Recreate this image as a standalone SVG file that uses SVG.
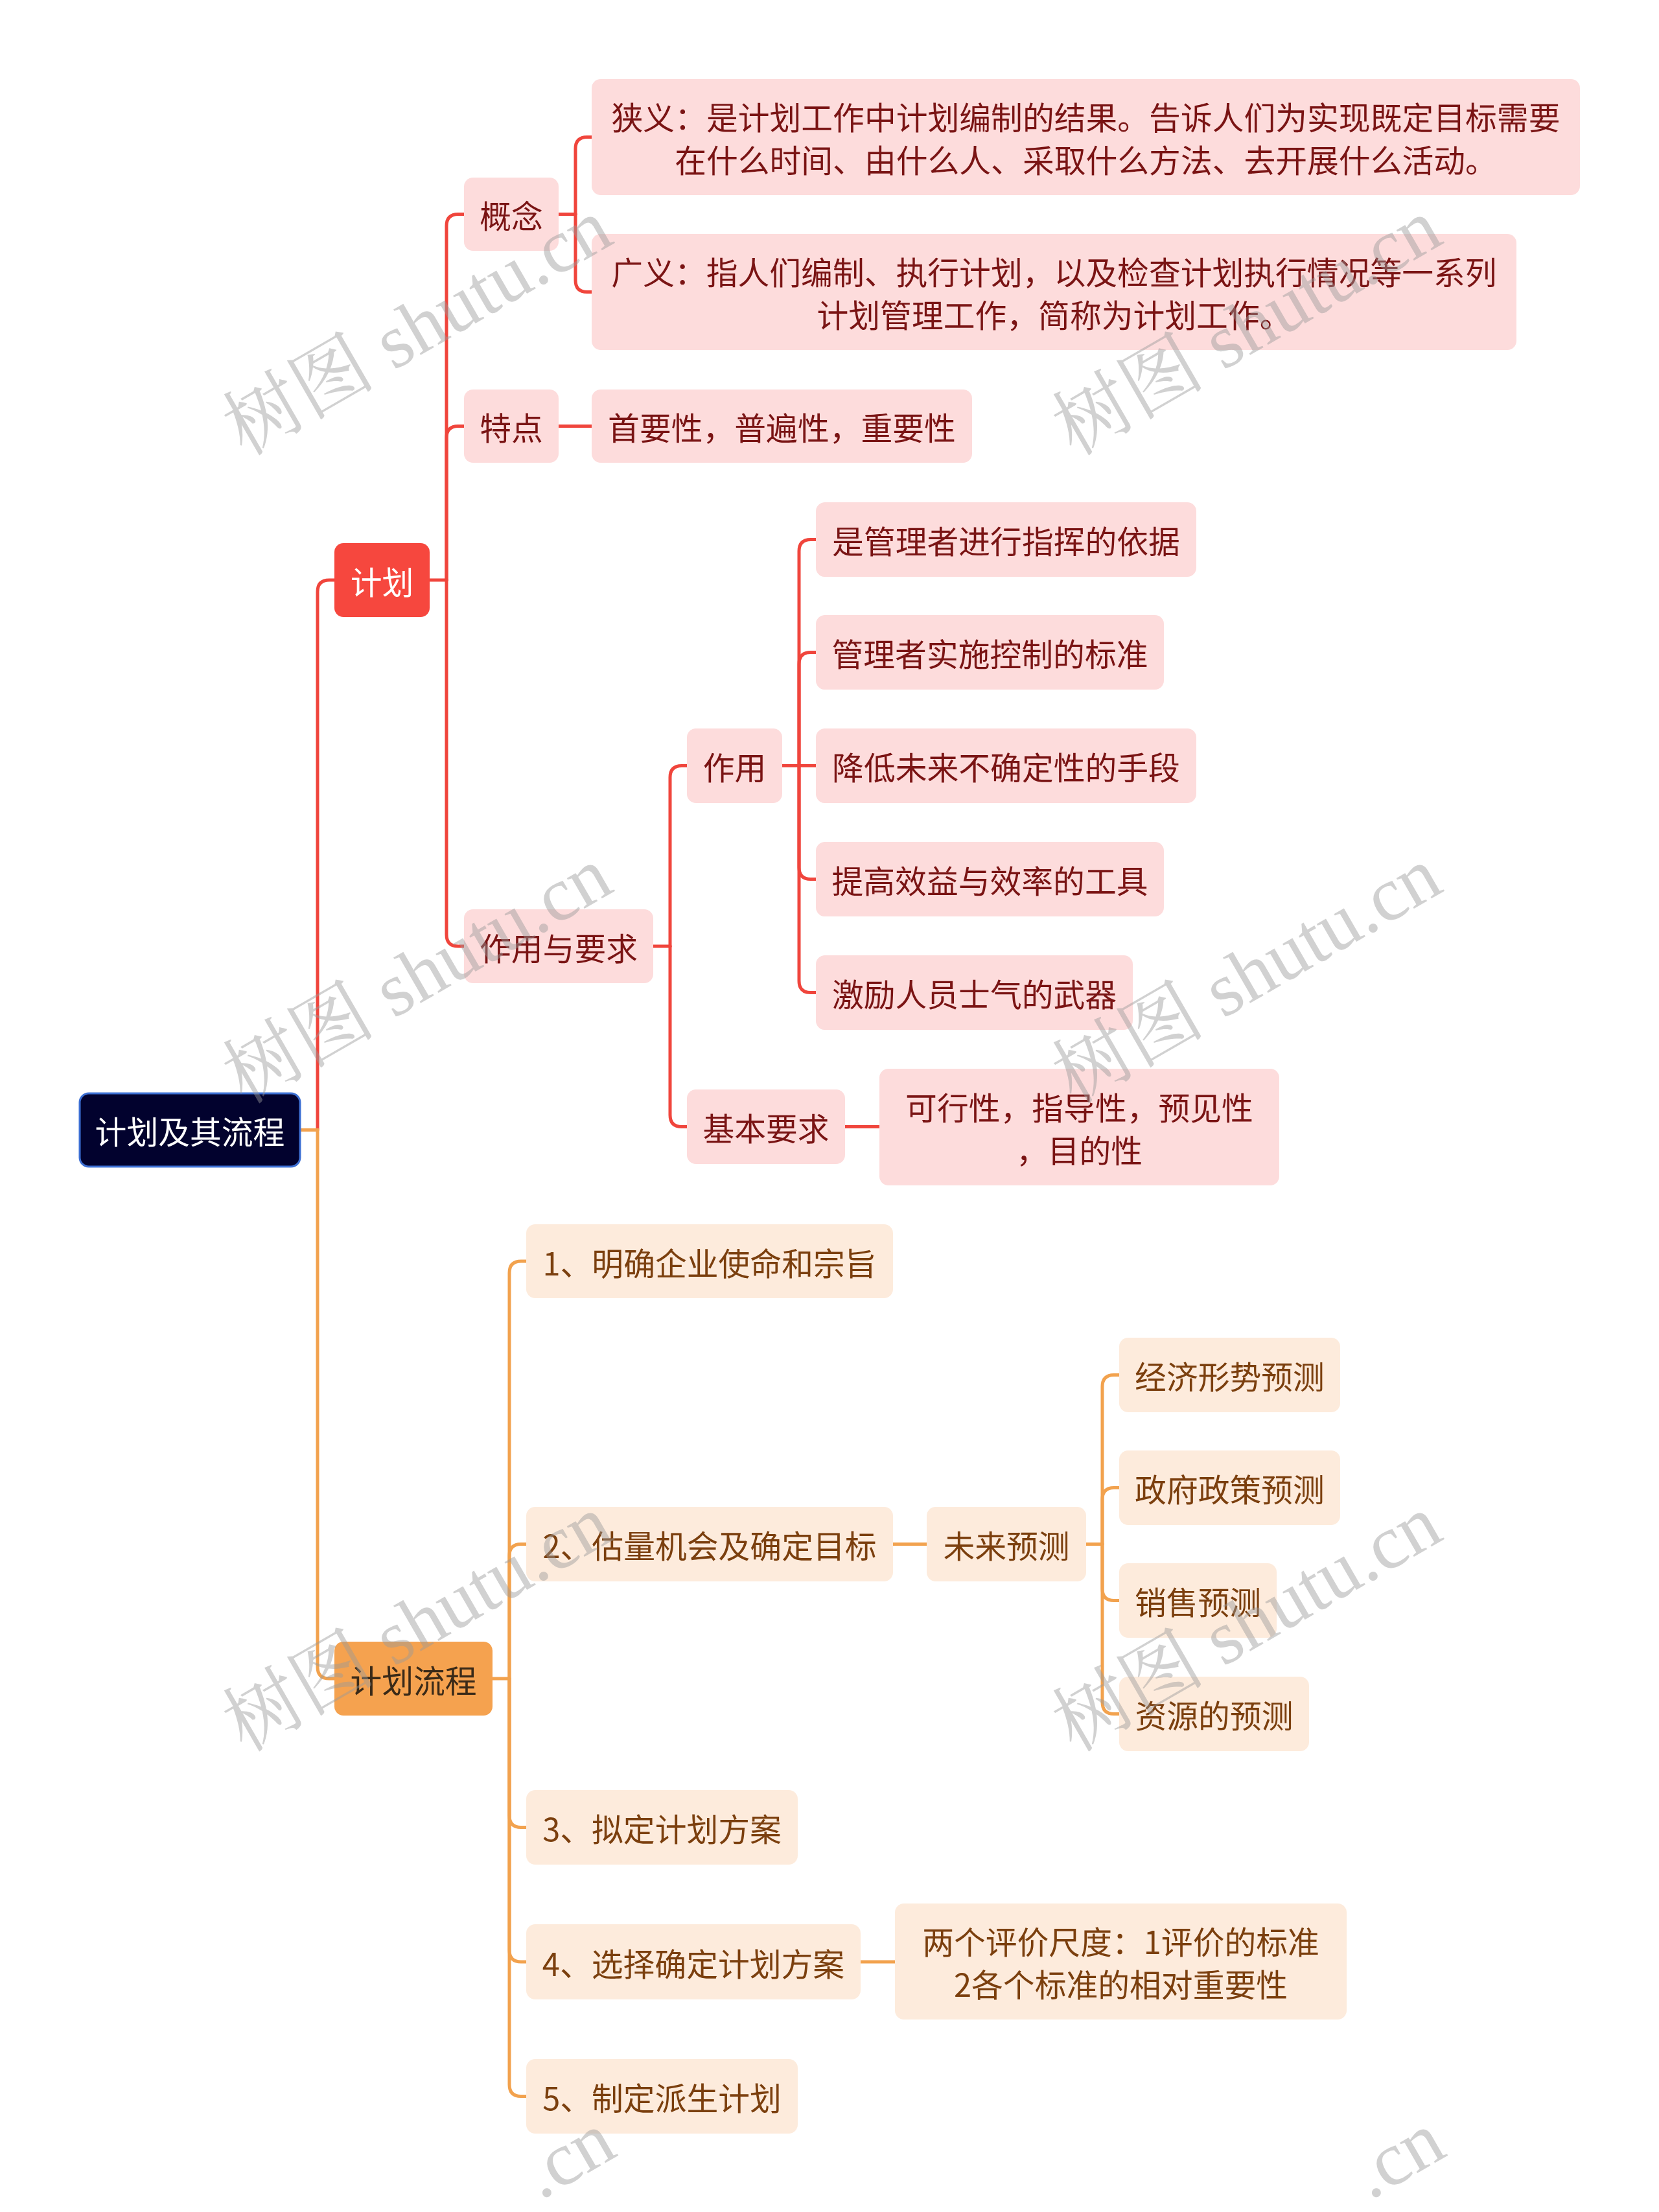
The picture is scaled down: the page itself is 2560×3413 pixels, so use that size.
<svg xmlns="http://www.w3.org/2000/svg" width="2560" height="3413" viewBox="0 0 2560 3413">
<style>
text{font-family:"Noto Sans CJK SC","Noto Sans",sans-serif;font-size:48.8px;text-anchor:middle;dominant-baseline:central}
.root rect{fill:#02022e;stroke:#3d70d4;stroke-width:3}
.root text{fill:#ffffff}
.red rect{fill:#f6473e}
.red text{fill:#ffffff}
.org rect{fill:#f5a24f}
.org text{fill:#3a2a18}
.pk rect{fill:#fddcdc}
.pk text{fill:#7a1414}
.pc rect{fill:#fdebdc}
.pc text{fill:#7b3f0e}
.cr path{fill:none;stroke:#f0453c;stroke-width:5;stroke-linecap:round}
.co path{fill:none;stroke:#f2a24e;stroke-width:5;stroke-linecap:round}
.wm text{font-family:"Liberation Serif","Noto Serif CJK SC","Noto Sans CJK SC",serif;font-size:118px;fill:#9a9a9a;fill-opacity:0.45;dominant-baseline:alphabetic}
</style>
<rect width="2560" height="3413" fill="#ffffff"/>
<g id="connectors">
<g class="cr">
<path d="M490 1743.5 V913 Q490 895 508 895 H516"/>
<path d="M663 895 H689"/>
<path d="M689 895 V348.5 Q689 330.5 707 330.5 H716"/>
<path d="M689 895 V675.5 Q689 657.5 707 657.5 H716"/>
<path d="M689 895 V1442 Q689 1460 707 1460 H716"/>
<path d="M862 330.5 H888"/>
<path d="M888 330.5 V229.5 Q888 211.5 906 211.5 H913"/>
<path d="M888 330.5 V432.5 Q888 450.5 906 450.5 H913"/>
<path d="M862 657.5 H913"/>
<path d="M1008 1460 H1034"/>
<path d="M1034 1460 V1199.5 Q1034 1181.5 1052 1181.5 H1060"/>
<path d="M1034 1460 V1720.5 Q1034 1738.5 1052 1738.5 H1060"/>
<path d="M1207 1181.5 H1259"/>
<path d="M1233 1181.5 V850.5 Q1233 832.5 1251 832.5 H1259"/>
<path d="M1233 1181.5 V1024.5 Q1233 1006.5 1251 1006.5 H1259"/>
<path d="M1233 1181.5 V1338.5 Q1233 1356.5 1251 1356.5 H1259"/>
<path d="M1233 1181.5 V1513.5 Q1233 1531.5 1251 1531.5 H1259"/>
<path d="M1304 1738.5 H1357"/>
</g>
<g class="co">
<path d="M463 1743.5 H490 V2572 Q490 2590 508 2590 H516"/>
<path d="M760 2590 H786"/>
<path d="M786 2590 V1964 Q786 1946 804 1946 H812"/>
<path d="M786 2590 V2400.5 Q786 2382.5 804 2382.5 H812"/>
<path d="M786 2590 V2801.5 Q786 2819.5 804 2819.5 H812"/>
<path d="M786 2590 V3009 Q786 3027 804 3027 H812"/>
<path d="M786 2590 V3216.5 Q786 3234.5 804 3234.5 H812"/>
<path d="M1378 2382.5 H1430"/>
<path d="M1676 2382.5 H1701"/>
<path d="M1701 2382.5 V2139.5 Q1701 2121.5 1719 2121.5 H1727"/>
<path d="M1701 2382.5 V2313.5 Q1701 2295.5 1719 2295.5 H1727"/>
<path d="M1701 2382.5 V2451.5 Q1701 2469.5 1719 2469.5 H1727"/>
<path d="M1701 2382.5 V2626.5 Q1701 2644.5 1719 2644.5 H1727"/>
<path d="M1328 3027 H1381"/>
</g>
</g>
<g id="n-root" class="root"><rect x="123" y="1687" width="340" height="113" rx="14"/><text x="293" y="1743.5">计划及其流程</text></g>
<g id="n-jihua" class="red"><rect x="516" y="838" width="147" height="114" rx="14"/><text x="589.5" y="895">计划</text></g>
<g id="n-liucheng" class="org"><rect x="516" y="2533" width="244" height="114" rx="14"/><text x="638" y="2590">计划流程</text></g>
<g id="n-gainian" class="pk"><rect x="716" y="274" width="146" height="113" rx="14"/><text x="789" y="330.5">概念</text></g>
<g id="n-tedian" class="pk"><rect x="716" y="601" width="146" height="113" rx="14"/><text x="789" y="657.5">特点</text></g>
<g id="n-zyyq" class="pk"><rect x="716" y="1403" width="292" height="114" rx="14"/><text x="862" y="1460">作用与要求</text></g>
<g id="n-xiayi" class="pk"><rect x="913" y="122" width="1525" height="179" rx="14"/><text x="1675.5" y="178.5">狭义：是计划工作中计划编制的结果。告诉人们为实现既定目标需要</text><text x="1675.5" y="244.5">在什么时间、由什么人、采取什么方法、去开展什么活动。</text></g>
<g id="n-guangyi" class="pk"><rect x="913" y="361" width="1427" height="179" rx="14"/><text x="1626.5" y="417.5">广义：指人们编制、执行计划，以及检查计划执行情况等一系列</text><text x="1626.5" y="483.5">计划管理工作，简称为计划工作。</text></g>
<g id="n-shouyao" class="pk"><rect x="913" y="601" width="587" height="113" rx="14"/><text x="1206.5" y="657.5">首要性，普遍性，重要性</text></g>
<g id="n-zuoyong" class="pk"><rect x="1060" y="1124" width="147" height="115" rx="14"/><text x="1133.5" y="1181.5">作用</text></g>
<g id="n-jbyq" class="pk"><rect x="1060" y="1681" width="244" height="115" rx="14"/><text x="1182" y="1738.5">基本要求</text></g>
<g id="n-z1" class="pk"><rect x="1259" y="775" width="587" height="115" rx="14"/><text x="1552.5" y="832.5">是管理者进行指挥的依据</text></g>
<g id="n-z2" class="pk"><rect x="1259" y="949" width="537" height="115" rx="14"/><text x="1527.5" y="1006.5">管理者实施控制的标准</text></g>
<g id="n-z3" class="pk"><rect x="1259" y="1124" width="587" height="115" rx="14"/><text x="1552.5" y="1181.5">降低未来不确定性的手段</text></g>
<g id="n-z4" class="pk"><rect x="1259" y="1299" width="537" height="115" rx="14"/><text x="1527.5" y="1356.5">提高效益与效率的工具</text></g>
<g id="n-z5" class="pk"><rect x="1259" y="1474" width="489" height="115" rx="14"/><text x="1503.5" y="1531.5">激励人员士气的武器</text></g>
<g id="n-kexing" class="pk"><rect x="1357" y="1649" width="617" height="180" rx="14"/><text x="1665.5" y="1706">可行性，指导性，预见性</text><text x="1665.5" y="1772">，目的性</text></g>
<g id="n-s1" class="pc"><rect x="812" y="1889" width="566" height="114" rx="14"/><text x="1095" y="1946">1、明确企业使命和宗旨</text></g>
<g id="n-s2" class="pc"><rect x="812" y="2325" width="566" height="115" rx="14"/><text x="1095" y="2382.5">2、估量机会及确定目标</text></g>
<g id="n-s3" class="pc"><rect x="812" y="2762" width="419" height="115" rx="14"/><text x="1021.5" y="2819.5">3、拟定计划方案</text></g>
<g id="n-s4" class="pc"><rect x="812" y="2969" width="516" height="116" rx="14"/><text x="1070" y="3027">4、选择确定计划方案</text></g>
<g id="n-s5" class="pc"><rect x="812" y="3177" width="419" height="115" rx="14"/><text x="1021.5" y="3234.5">5、制定派生计划</text></g>
<g id="n-weilai" class="pc"><rect x="1430" y="2325" width="246" height="115" rx="14"/><text x="1553" y="2382.5">未来预测</text></g>
<g id="n-f1" class="pc"><rect x="1727" y="2064" width="341" height="115" rx="14"/><text x="1897.5" y="2121.5">经济形势预测</text></g>
<g id="n-f2" class="pc"><rect x="1727" y="2238" width="341" height="115" rx="14"/><text x="1897.5" y="2295.5">政府政策预测</text></g>
<g id="n-f3" class="pc"><rect x="1727" y="2412" width="243" height="115" rx="14"/><text x="1848.5" y="2469.5">销售预测</text></g>
<g id="n-f4" class="pc"><rect x="1727" y="2587" width="293" height="115" rx="14"/><text x="1873.5" y="2644.5">资源的预测</text></g>
<g id="n-pingjia" class="pc"><rect x="1381" y="2937" width="697" height="179" rx="14"/><text x="1729.5" y="2993.5">两个评价尺度：1评价的标准</text><text x="1729.5" y="3059.5">2各个标准的相对重要性</text></g>
<g id="watermarks" class="wm">
<text transform="translate(646 508) rotate(-30)" x="0" y="36">树图 shutu.cn</text>
<text transform="translate(1926 508) rotate(-30)" x="0" y="36">树图 shutu.cn</text>
<text transform="translate(646 1508) rotate(-30)" x="0" y="36">树图 shutu.cn</text>
<text transform="translate(1926 1508) rotate(-30)" x="0" y="36">树图 shutu.cn</text>
<text transform="translate(646 2508) rotate(-30)" x="0" y="36">树图 shutu.cn</text>
<text transform="translate(1926 2508) rotate(-30)" x="0" y="36">树图 shutu.cn</text>
<text transform="translate(646 3462) rotate(-30)" x="196" y="36" style="text-anchor:start">.cn</text>
<text transform="translate(1926 3462) rotate(-30)" x="196" y="36" style="text-anchor:start">.cn</text>
</g>
</svg>
